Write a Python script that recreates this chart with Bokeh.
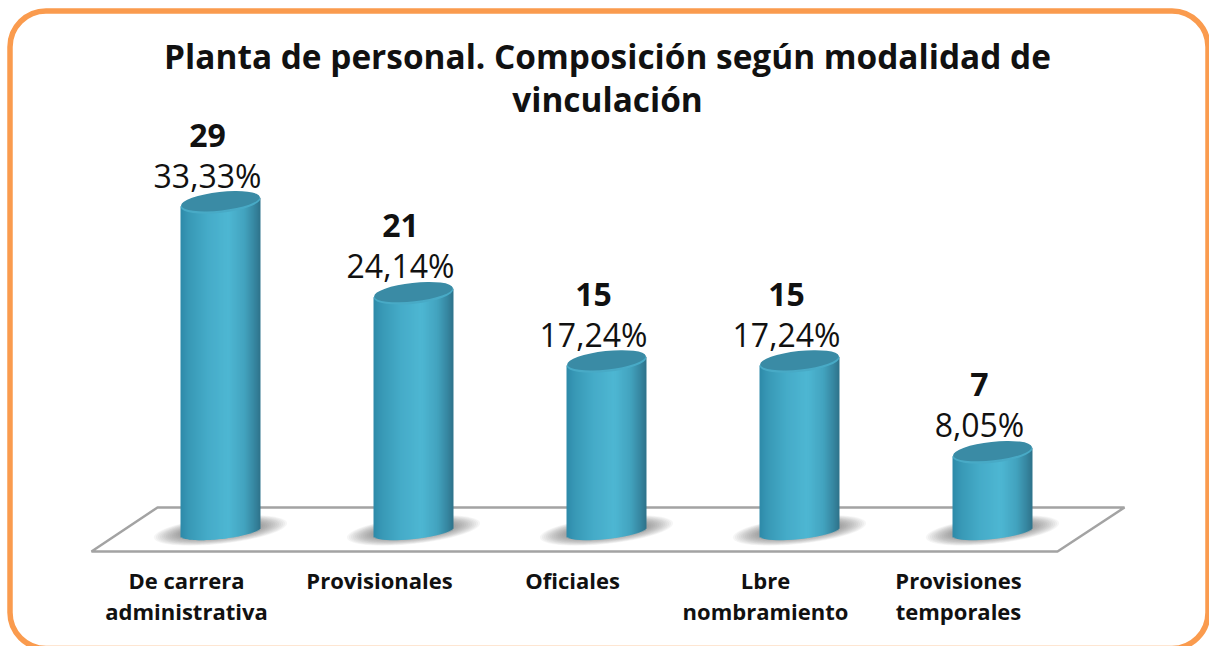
import math
import numpy as np
from bokeh.plotting import figure, ColumnDataSource
from bokeh.models import Range1d, BoxAnnotation, PolyAnnotation, Label
from bokeh.core.properties import value
from bokeh.embed import file_html
from bokeh.resources import INLINE

title_text = "Planta de personal. Composición según modalidad de\nvinculación"
categories = ["De carrera\nadministrativa", "Provisionales", "Oficiales", "Lbre\nnombramiento", "Provisiones\ntemporales"]
counts = [29, 21, 15, 15, 7]
percents = ["33,33%", "24,14%", "17,24%", "17,24%", "8,05%"]

W, H = 1209, 646
FONT = "Open Sans"
PX_PER_UNIT = 11.36      # pixels per one unit of value
ZERO_PX = 531            # screen row of value 0
FIRST_PX, STEP_PX = 220, 193
BAR_W, ELL_H, BASE_H, TILT = 80, 20, 15, 0.11

p = figure(width=W, height=H, output_backend="svg", toolbar_location=None,
           x_axis_type=None, y_axis_type=None, min_border=0, outline_line_color=None,
           margin=0, background_fill_color="white", border_fill_color="white",
           x_range=Range1d(-FIRST_PX / STEP_PX, (W - FIRST_PX) / STEP_PX),
           y_range=Range1d((ZERO_PX - H) / PX_PER_UNIT, ZERO_PX / PX_PER_UNIT))
p.grid.visible = False

# rounded frame and floor of the 3D chart (screen y counted from the bottom here)
p.add_layout(BoxAnnotation(left=9.5, right=1207.5, top=H - 10.5, bottom=H - 648,
                           left_units="screen", right_units="screen", top_units="screen", bottom_units="screen",
                           fill_color="white", fill_alpha=1, line_color="#FA9B4E", line_alpha=1, line_width=5.5,
                           border_radius=36, level="underlay", editable=False))
p.add_layout(PolyAnnotation(xs=[91, 157, 1124, 1057], ys=[H - 551, H - 507, H - 507, H - 551],
                            xs_units="screen", ys_units="screen",
                            fill_color="white", fill_alpha=1, line_color="#A3A3A3", line_alpha=1, line_width=2.5,
                            level="underlay"))

idx = np.arange(len(categories), dtype=float)
vals = np.array(counts, dtype=float)
ux = 1 / STEP_PX
uy = 1 / PX_PER_UNIT
angle = math.atan(TILT)

# soft shadows on the floor
for k in range(14):
    p.ellipse(idx, [0.1] * len(idx), width=134 - 4 * k, height=27 - k, angle=angle,
              width_units="screen", height_units="screen",
              fill_color="#555555", fill_alpha=0.055, line_color=None)

# cylinder bodies: thin vertical strips following a horizontal shading
stops_x = [0.0, 0.10, 0.35, 0.60, 0.80, 0.93, 1.0]
stops_c = [(0x2E, 0x8A, 0xA9), (0x38, 0x98, 0xB6), (0x46, 0xAC, 0xC9), (0x4E, 0xB7, 0xD3),
           (0x43, 0xA3, 0xBF), (0x36, 0x85, 0x9F), (0x2E, 0x72, 0x8A)]
n = 40
left, right, top, bottom, color = [], [], [], [], []
for i, v in zip(idx, vals):
    for s in range(n):
        f0, f1 = s / n, (s + 1) / n
        fm = (f0 + f1) / 2
        d = (fm - 0.5) * BAR_W
        rgb = [int(np.interp(fm, stops_x, [c[k] for c in stops_c])) for k in range(3)]
        left.append(i + (f0 - 0.5) * BAR_W * ux)
        right.append(i + (f1 - 0.5) * BAR_W * ux + (1.0 if s < n - 1 else 0.0) * ux)
        top.append(v + TILT * d * uy)
        arc = (BASE_H / 2) * math.sqrt(max(0.0, 1 - (2 * d / BAR_W) ** 2))
        bottom.append(TILT * d * uy - arc * uy)
        color.append("#%02x%02x%02x" % tuple(rgb))
p.quad(left=left, right=right, top=top, bottom=bottom, fill_color=color, line_color=None)

# cylinder caps
p.ellipse(idx, vals - 0.8 * uy, width=BAR_W, height=ELL_H, angle=angle, width_units="screen", height_units="screen",
          fill_color="#48AAC6", line_color=None)
p.ellipse(idx, vals + 0.8 * uy, width=BAR_W - 1, height=ELL_H - 1.5, angle=angle, width_units="screen", height_units="screen",
          fill_color="#3A8BA5", line_color=None)

# data labels
src = ColumnDataSource(dict(x=idx, y=vals, c=[str(c) for c in counts], pc=percents))
p.text("x", "y", text="c", source=src, x_offset=-13, y_offset=-67, text_align="center", text_baseline="middle",
       text_font=value(FONT), text_font_style="bold", text_font_size="32px", text_color="#111111")
p.text("x", "y", text="pc", source=src, x_offset=-13, y_offset=-27, text_align="center", text_baseline="middle",
       text_font=value(FONT), text_font_size="32px", text_color="#111111")

# category labels
p.text(idx, [0] * len(idx), text=categories, x_offset=-34, y_offset=33, text_align="center", text_baseline="top",
       text_line_height=1.04, text_font=value(FONT), text_font_style="bold", text_font_size="22px", text_color="#111111")

# title
p.add_layout(Label(x=607, y=H - 77, x_units="screen", y_units="screen", text=title_text,
                   text_align="center", text_baseline="middle", text_line_height=0.94,
                   text_font=FONT, text_font_style="bold", text_font_size="33.4px", text_color="#111111"))

open("out.html", "w").write(file_html(p, INLINE))
